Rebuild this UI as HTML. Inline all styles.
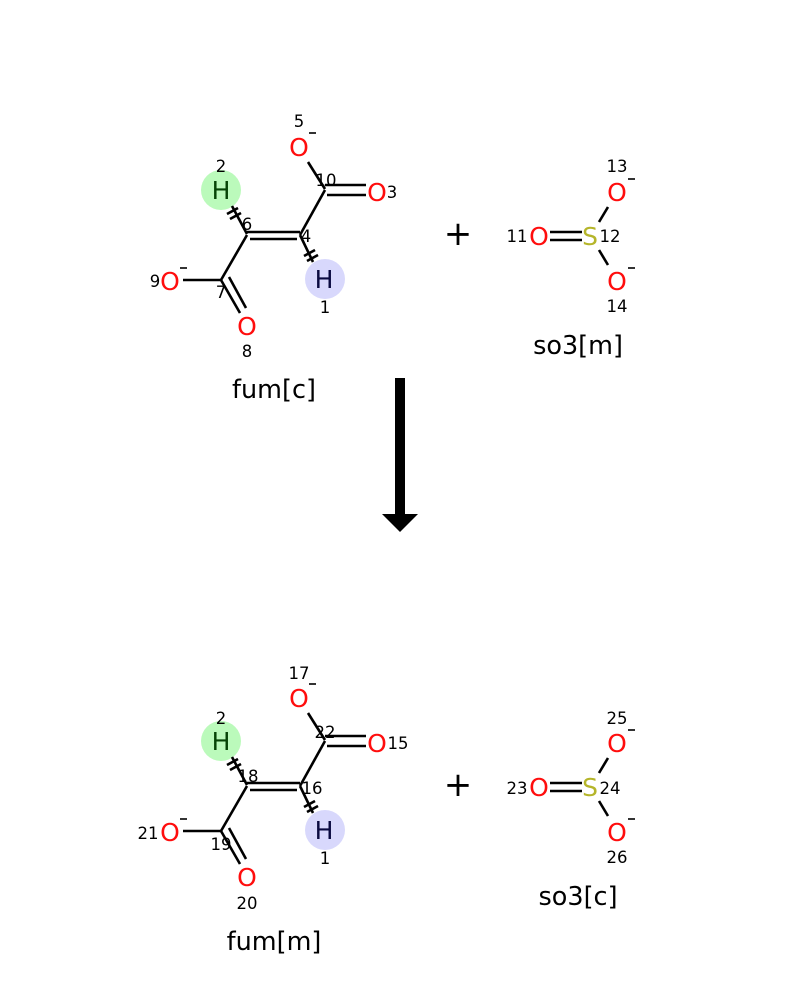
<!DOCTYPE html>
<html><head><meta charset="utf-8"><style>
html,body{margin:0;padding:0;background:#fff;}
svg{display:block;font-family:"DejaVu Sans","Liberation Sans",sans-serif;}
.a{font-size:25px;text-anchor:middle;}
.n{font-size:16.5px;fill:#000;text-anchor:middle;}
.o{fill:#ff0d0d;}
.l{stroke:#000;stroke-width:2.6;fill:none;}
.t{font-size:25.5px;text-anchor:middle;fill:#000;}
.c{stroke:#000;stroke-width:1.6;}
</style></head><body>
<svg width="800" height="1000" viewBox="0 0 800 1000">
<defs>
<g id="fum">
  <circle cx="221" cy="190" r="20" fill="#bbfabb"/>
  <circle cx="325" cy="279" r="20" fill="#d8d8fc"/>
  <line class="l" x1="232" y1="206" x2="247" y2="234"/>
  <line class="l" x1="227" y1="214" x2="238" y2="208"/>
  <line class="l" x1="230" y1="219" x2="241" y2="213"/>
  <line class="l" x1="247" y1="232" x2="300" y2="232"/>
  <line class="l" x1="250" y1="239" x2="297" y2="239"/>
  <line class="l" x1="300" y1="235" x2="325" y2="190"/>
  <line class="l" x1="325" y1="185" x2="366" y2="185"/>
  <line class="l" x1="327" y1="195" x2="366" y2="195"/>
  <line class="l" x1="308" y1="162" x2="325" y2="189"/>
  <line class="l" x1="247" y1="235" x2="221" y2="280"/>
  <line class="l" x1="183" y1="280" x2="221" y2="280"/>
  <line class="l" x1="221" y1="280" x2="240" y2="313"/>
  <line class="l" x1="229" y1="277" x2="246" y2="308"/>
  <line class="l" x1="300" y1="235" x2="313" y2="262"/>
  <line class="l" x1="304" y1="256" x2="315" y2="250"/>
  <line class="l" x1="307" y1="261" x2="318" y2="255"/>
  <text class="a" x="221" y="199" fill="#064406">H</text>
  <text class="a" x="324" y="288" fill="#0a0a40">H</text>
  <text class="a o" x="299" y="156">O</text>
  <text class="a o" x="377" y="201">O</text>
  <text class="a o" x="170" y="290">O</text>
  <text class="a o" x="247" y="335">O</text>
  <line class="c" x1="309" y1="133" x2="316" y2="133"/>
  <line class="c" x1="180" y1="268" x2="187" y2="268"/>
</g>
<g id="so3">
  <line class="l" x1="550" y1="232" x2="582" y2="232"/>
  <line class="l" x1="550" y1="240" x2="582" y2="240"/>
  <line class="l" x1="599" y1="222" x2="608" y2="207"/>
  <line class="l" x1="599" y1="250" x2="608" y2="265"/>
  <text class="a o" x="539" y="245">O</text>
  <text class="a" x="590" y="245" fill="#b5b52a">S</text>
  <text class="a o" x="617" y="201">O</text>
  <text class="a o" x="617" y="290">O</text>
  <line class="c" x1="628" y1="179" x2="635" y2="179"/>
  <line class="c" x1="628" y1="268" x2="635" y2="268"/>
  <text x="458" y="245" font-size="34" text-anchor="middle">+</text>
</g>
</defs>

<use href="#fum"/>
<use href="#so3"/>
<text class="n" x="221" y="172">2</text>
<text class="n" x="299" y="127">5</text>
<text class="n" x="326" y="186">10</text>
<text class="n" x="392" y="198">3</text>
<text class="n" x="247" y="230">6</text>
<text class="n" x="306" y="242">4</text>
<text class="n" x="155" y="287">9</text>
<text class="n" x="221" y="298">7</text>
<text class="n" x="325" y="313">1</text>
<text class="n" x="247" y="357">8</text>
<text class="n" x="517" y="242">11</text>
<text class="n" x="610" y="242">12</text>
<text class="n" x="617" y="172">13</text>
<text class="n" x="617" y="312">14</text>
<text class="t" x="274" y="398">fum[c]</text>
<text class="t" x="578" y="354">so3[m]</text>

<rect x="395" y="378" width="10" height="137" fill="#000"/>
<polygon points="382,514 418,514 400,532" fill="#000"/>

<g transform="translate(0,551)">
<use href="#fum"/>
<use href="#so3"/>
</g>
<text class="n" x="221" y="724">2</text>
<text class="n" x="299" y="679">17</text>
<text class="n" x="325" y="738">22</text>
<text class="n" x="398" y="749">15</text>
<text class="n" x="248" y="782">18</text>
<text class="n" x="312" y="794">16</text>
<text class="n" x="148" y="839">21</text>
<text class="n" x="221" y="850">19</text>
<text class="n" x="325" y="864">1</text>
<text class="n" x="247" y="909">20</text>
<text class="n" x="517" y="794">23</text>
<text class="n" x="610" y="794">24</text>
<text class="n" x="617" y="724">25</text>
<text class="n" x="617" y="863">26</text>
<text class="t" x="274" y="950">fum[m]</text>
<text class="t" x="578" y="905">so3[c]</text>
</svg>
</body></html>
